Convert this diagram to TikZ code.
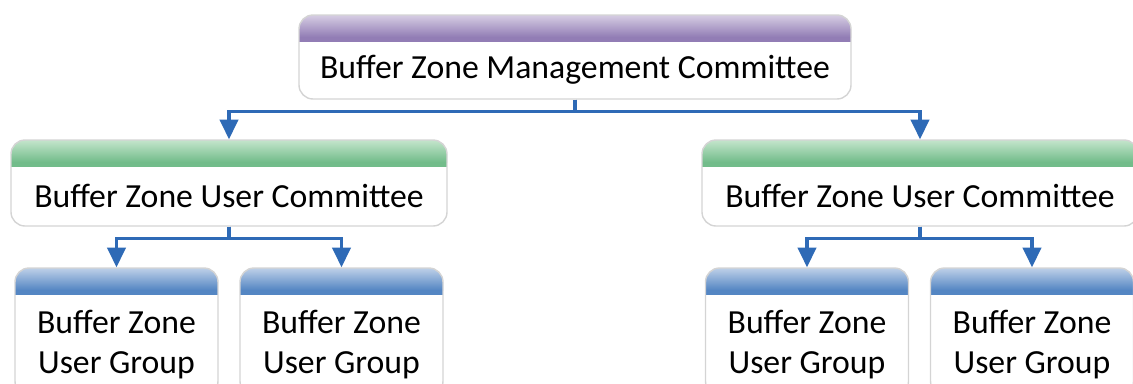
\documentclass[tikz,border=0pt]{standalone}
\usepackage{fontspec}
\setmainfont{Carlito}
\usetikzlibrary{arrows.meta,positioning}
\definecolor{bzpurpleA}{RGB}{214,205,227}
\definecolor{bzpurpleB}{RGB}{146,125,181}
\definecolor{bzgreenA}{RGB}{196,229,204}
\definecolor{bzgreenB}{RGB}{114,188,138}
\definecolor{bzblueA}{RGB}{190,208,232}
\definecolor{bzblueB}{RGB}{84,134,195}
\definecolor{bzarrow}{RGB}{46,106,182}
\tikzset{
  arrow/.style={line width=2.3pt,-{Triangle[width=13pt,length=14pt]},color=bzarrow},
  orgbox/.style 2 args={draw=black!17, line width=1pt, fill=white,
    rounded corners=0.35cm, inner xsep=0pt, inner ysep=0pt, align=center,
    font=\fontsize{24}{28.5}\selectfont,
    path picture={
      \fill[sharp corners,#2] (path picture bounding box.north west) rectangle
        ([yshift=-0.68cm]path picture bounding box.north east);
      \shade[sharp corners,top color=#1,bottom color=#2]
        (path picture bounding box.north west) rectangle
        ([yshift=-0.55cm]path picture bounding box.north east);}},
  committee/.style={orgbox={bzgreenA}{bzgreenB}, minimum width=10.9cm,
    text height=1.675cm, text depth=0.475cm, anchor=base},
  usergroup/.style={orgbox={bzblueA}{bzblueB}, minimum width=5.075cm,
    text height=2.63cm, text depth=0.55cm, anchor=base},
}
\begin{document}
\begin{tikzpicture}
\useasboundingbox (0,0) rectangle (28.325,-9.575);

% Management committee
\node[orgbox={bzpurpleA}{bzpurpleB}, minimum width=13.8cm, text height=1.575cm,
  text depth=0.525cm, anchor=base] (bzmc) at (14.375,-1.95)
  {Buffer Zone Management Committee};

% User committees
\node[committee] (uc1) at (5.725,-5.175) {Buffer Zone User Committee};
\node[committee] (uc2) at (23.0,-5.175) {Buffer Zone User Committee};

% User groups
\node[usergroup] (ug1) at (2.9125,-9.33) {Buffer Zone\\User Group};
\node[usergroup] (ug2) at (8.5375,-9.33) {Buffer Zone\\User Group};
\node[usergroup] (ug3) at (20.175,-9.33) {Buffer Zone\\User Group};
\node[usergroup] (ug4) at (25.8,-9.33) {Buffer Zone\\User Group};

% Connectors
\coordinate (j0) at ([yshift=-0.3cm]bzmc.south);
\coordinate (j1) at ([yshift=-0.3cm]uc1.south);
\coordinate (j2) at ([yshift=-0.3cm]uc2.south);
\draw[arrow] (bzmc.south) -- (j0) -| (uc1.north);
\draw[arrow] (bzmc.south) -- (j0) -| (uc2.north);
\draw[arrow] (uc1.south) -- (j1) -| (ug1.north);
\draw[arrow] (uc1.south) -- (j1) -| (ug2.north);
\draw[arrow] (uc2.south) -- (j2) -| (ug3.north);
\draw[arrow] (uc2.south) -- (j2) -| (ug4.north);
\end{tikzpicture}
\end{document}
